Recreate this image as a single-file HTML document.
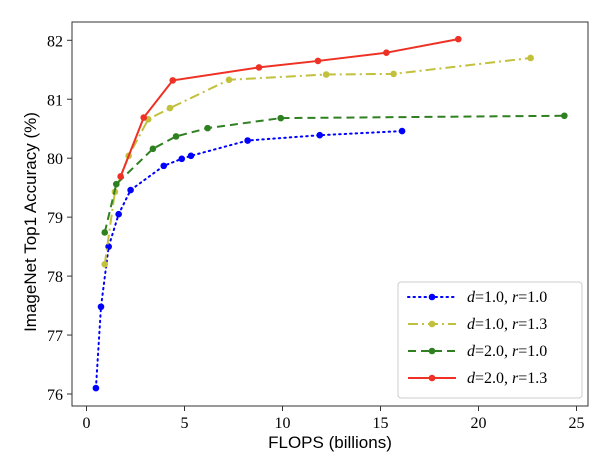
<!DOCTYPE html>
<html><head><meta charset="utf-8"><style>
body{margin:0;background:#fff;width:606px;height:468px;overflow:hidden}
svg{display:block}
.tk{font-family:"Liberation Serif",serif;font-size:16px;fill:#000}
.tt{font-family:"Liberation Sans",sans-serif;font-size:17px;fill:#000}
.lg{font-family:"Liberation Serif",serif;font-size:16px;fill:#000}
</style></head><body>
<svg id="chart" width="606" height="468"></svg>
<script>
const seriesLabels=["d=1.0, r=1.0","d=1.0, r=1.3","d=2.0, r=1.0","d=2.0, r=1.3"];
const blueX=[0.48,0.74,1.13,1.64,2.25,3.94,4.86,5.33,8.22,11.9,16.1];
const blueY=[76.10,77.48,78.50,79.05,79.46,79.87,79.99,80.04,80.30,80.39,80.46];
const yellowX=[0.93,1.45,2.15,3.15,4.26,7.27,12.23,15.67,22.66];
const yellowY=[78.20,79.43,80.04,80.66,80.85,81.33,81.42,81.43,81.70];
const greenX=[0.93,1.52,3.39,4.57,6.18,9.91,24.38];
const greenY=[78.74,79.56,80.16,80.37,80.51,80.68,80.72];
const redX=[1.74,2.92,4.40,8.80,11.81,15.30,18.97];
const redY=[79.69,80.69,81.32,81.54,81.65,81.79,82.02];
const xTicks=[0,5,10,15,20,25];
const yTicks=[76,77,78,79,80,81,82];

const NS="http://www.w3.org/2000/svg";
const svg=document.getElementById('chart');
const L=72,T=22,R=588,B=406;
function sx(v){return 86.5+v*19.6;}
function sy(v){return 40.3+(82-v)*58.95;}
function mk(tag,attrs,parent){const e=document.createElementNS(NS,tag);for(const k in attrs)e.setAttribute(k,attrs[k]);(parent||svg).appendChild(e);return e;}

const frame=mk('rect',{x:L,y:T,width:R-L,height:B-T,fill:'none',stroke:'#333','stroke-width':1});



xTicks.forEach(t=>{
  const l=mk('line',{x1:sx(t),x2:sx(t),y1:B,y2:B+5,stroke:'#333'});
  
  
  const tx=mk('text',{x:sx(t),y:B+22,'text-anchor':'middle',class:'tk'});
  tx.textContent=t;
  
  
});
yTicks.forEach(t=>{
  const l=mk('line',{x1:L-5,x2:L,y1:sy(t),y2:sy(t),stroke:'#333'});
  
  
  const tx=mk('text',{x:L-9,y:sy(t)+6,'text-anchor':'end',class:'tk'});
  tx.textContent=t;
  
  
});
const xt=mk('text',{x:330,y:448,'text-anchor':'middle',class:'tt'});
xt.textContent='FLOPS (billions)';


const yt=mk('text',{x:0,y:0,'text-anchor':'middle',class:'tt',transform:'translate(36,222) rotate(-90)'});
yt.textContent='ImageNet Top1 Accuracy (%)';



const series=[
 {xs:blueX,ys:blueY,c:'#0000ff',dash:'1.5 4',name:'series-d1-r1'},
 {xs:yellowX,ys:yellowY,c:'#c2c03c',dash:'10 4 2 4',name:'series-d1-r13'},
 {xs:greenX,ys:greenY,c:'#2f8020',dash:'8 5',name:'series-d2-r1'},
 {xs:redX,ys:redY,c:'#ee3124',dash:'',name:'series-d2-r13'}
];
series.forEach(s=>{
  const g=mk('g',{});
  
  
  const pts=s.xs.map((x,i)=>sx(x)+','+sy(s.ys[i])).join(' ');
  const pl=mk('polyline',{points:pts,fill:'none',stroke:s.c,'stroke-width':2,'stroke-dasharray':s.dash,'stroke-linecap':s.dash==='1.5 4'?'round':'butt'},g);
  
  
  s.xs.forEach((x,i)=>{
    const c=mk('circle',{cx:sx(x),cy:sy(s.ys[i]),r:3.3,fill:s.c},g);
    
    
  });
});

const lg=mk('g',{});


mk('rect',{x:398,y:282,width:184,height:116,rx:3,fill:'#fff',stroke:'#ccc'},lg);
series.forEach((s,i)=>{
  const y=297+i*27;
  const e=mk('g',{},lg);
  
  
  mk('line',{x1:408,x2:456,y1:y,y2:y,stroke:s.c,'stroke-width':2,'stroke-dasharray':s.dash,'stroke-linecap':s.dash==='1.5 4'?'round':'butt'},e);
  mk('circle',{cx:432,cy:y,r:3.3,fill:s.c},e);
  const p=seriesLabels[i].match(/d=([\d.]+), r=([\d.]+)/);
  const t=mk('text',{x:467,y:y+5,class:'lg'},e);
  t.innerHTML='<tspan font-style="italic">d</tspan>='+p[1]+', <tspan font-style="italic">r</tspan>='+p[2];
});
</script>
</body></html>
